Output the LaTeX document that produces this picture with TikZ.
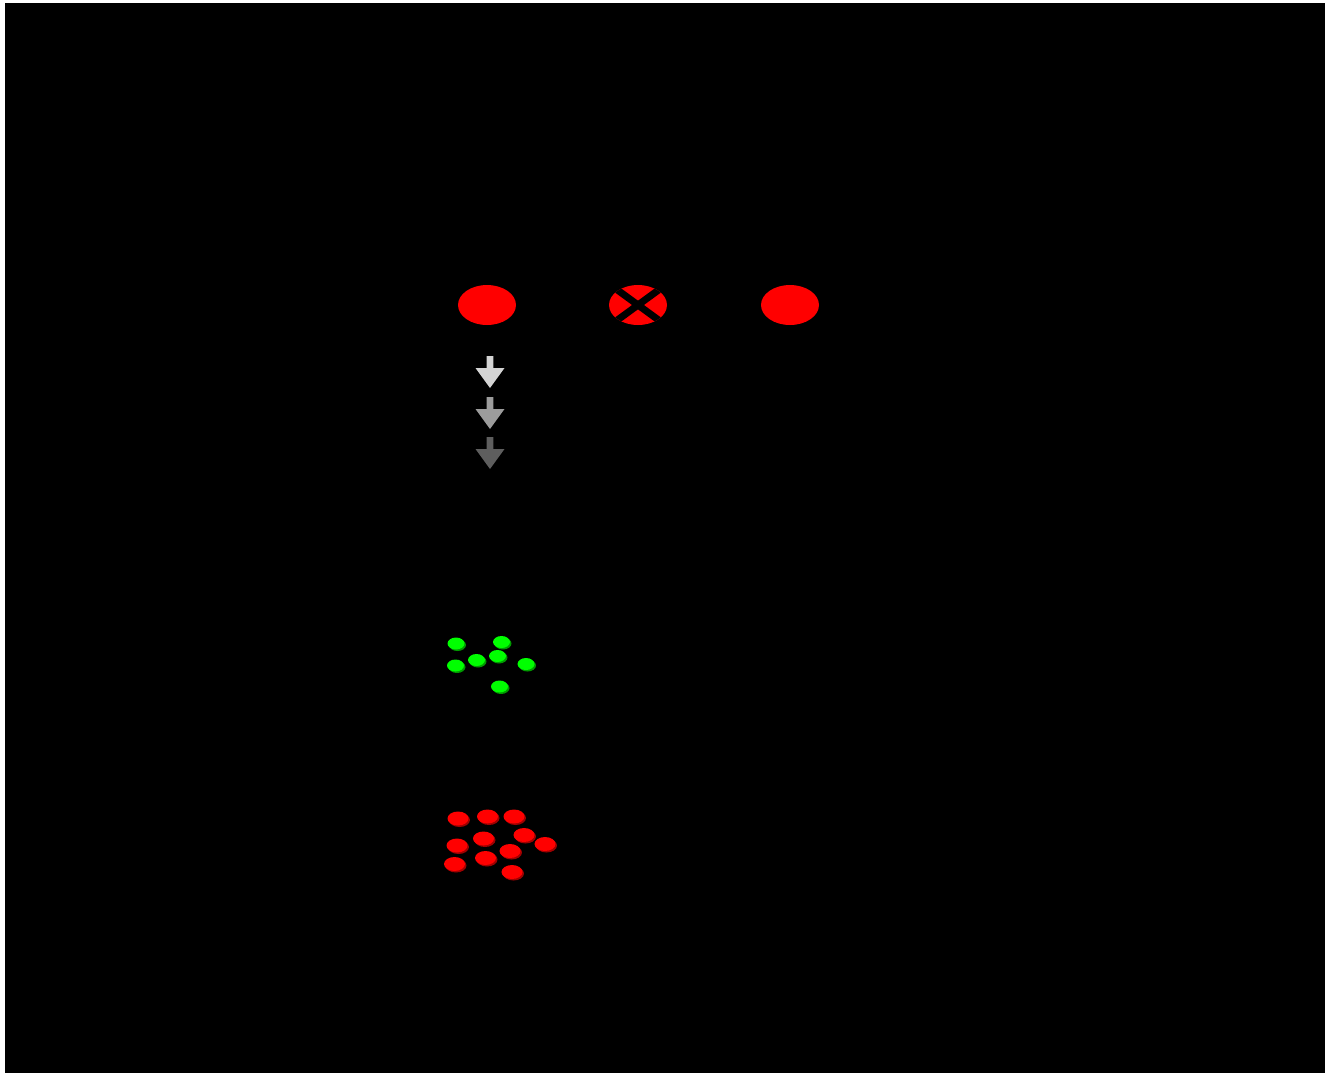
\documentclass[tikz,border=0pt]{standalone}
\usetikzlibrary{shapes.geometric}
\definecolor{cellred}{HTML}{FF0000}
\definecolor{cellredshadow}{HTML}{A00000}
\definecolor{cellgreen}{HTML}{00FF00}
\definecolor{cellgreenshadow}{HTML}{009A00}
\definecolor{arrowA}{HTML}{D4D4D4}
\definecolor{arrowB}{HTML}{9C9C9C}
\definecolor{arrowC}{HTML}{5E5E5E}
\tikzset{
  bigcell/.style={ellipse, fill=cellred, draw=none, minimum width=1.16cm, minimum height=0.80cm, inner sep=0pt},
  crossline/.style={line width=0.14cm, black},
}
\newcommand{\greencoin}[3]{%
  \fill[cellgreenshadow] (#2+1.5,#3+1.5) ellipse [x radius=0.17cm, y radius=0.12cm];
  \fill[cellgreen] (#2,#3) ellipse [x radius=0.17cm, y radius=0.12cm];
  \coordinate (#1) at (#2,#3);}
\newcommand{\redcoin}[3]{%
  \fill[cellredshadow] (#2+1.5,#3+1.5) ellipse [x radius=0.21cm, y radius=0.14cm];
  \fill[cellred] (#2,#3) ellipse [x radius=0.21cm, y radius=0.14cm];
  \coordinate (#1) at (#2,#3);}
\newcommand{\downarrowshape}[4]{% name, x, ytop, color
  \fill[#4] (#2-3.3,#3) -- (#2+3.3,#3) -- (#2+3.3,#3+12) -- (#2+14.5,#3+12)
     -- (#2,#3+32) -- (#2-14.5,#3+12) -- (#2-3.3,#3+12) -- cycle;
  \coordinate (#1) at (#2,#3+16);}
\begin{document}
\begin{tikzpicture}[x=0.02cm,y=-0.02cm]
\useasboundingbox (0,0) rectangle (1326,1073);
\fill[white] (0,0) rectangle (1326,1073);
\fill[black] (5,3) rectangle (1325,1073);

% top cells
\node[bigcell] (cellL) at (487,305) {};
\node[bigcell] (cellM) at (638,305) {};
\node[bigcell] (cellR) at (790,305) {};
\begin{scope}
  \clip (638,305) ellipse [x radius=0.58cm, y radius=0.40cm];
  \draw[crossline] (612,286) -- (664,324);
  \draw[crossline] (664,286) -- (612,324);
\end{scope}

% fading arrows
\downarrowshape{arr1}{490}{356}{arrowA}
\downarrowshape{arr2}{490}{397}{arrowB}
\downarrowshape{arr3}{490}{437}{arrowC}

% green cells
\greencoin{g1}{456}{643.5}
\greencoin{g2}{501.5}{642}
\greencoin{g3}{476.5}{660}
\greencoin{g4}{497.5}{656}
\greencoin{g5}{455.5}{665.5}
\greencoin{g6}{526}{664}
\greencoin{g7}{499.5}{686.5}

% red cells
\redcoin{r1}{458}{818.5}
\redcoin{r2}{487.5}{816.5}
\redcoin{r3}{514}{816.5}
\redcoin{r4}{483.5}{838.5}
\redcoin{r5}{524}{835}
\redcoin{r6}{545}{844}
\redcoin{r7}{457}{845.5}
\redcoin{r8}{510}{851}
\redcoin{r9}{454.5}{864}
\redcoin{r10}{485.5}{858}
\redcoin{r11}{512}{872}
\end{tikzpicture}
\end{document}
